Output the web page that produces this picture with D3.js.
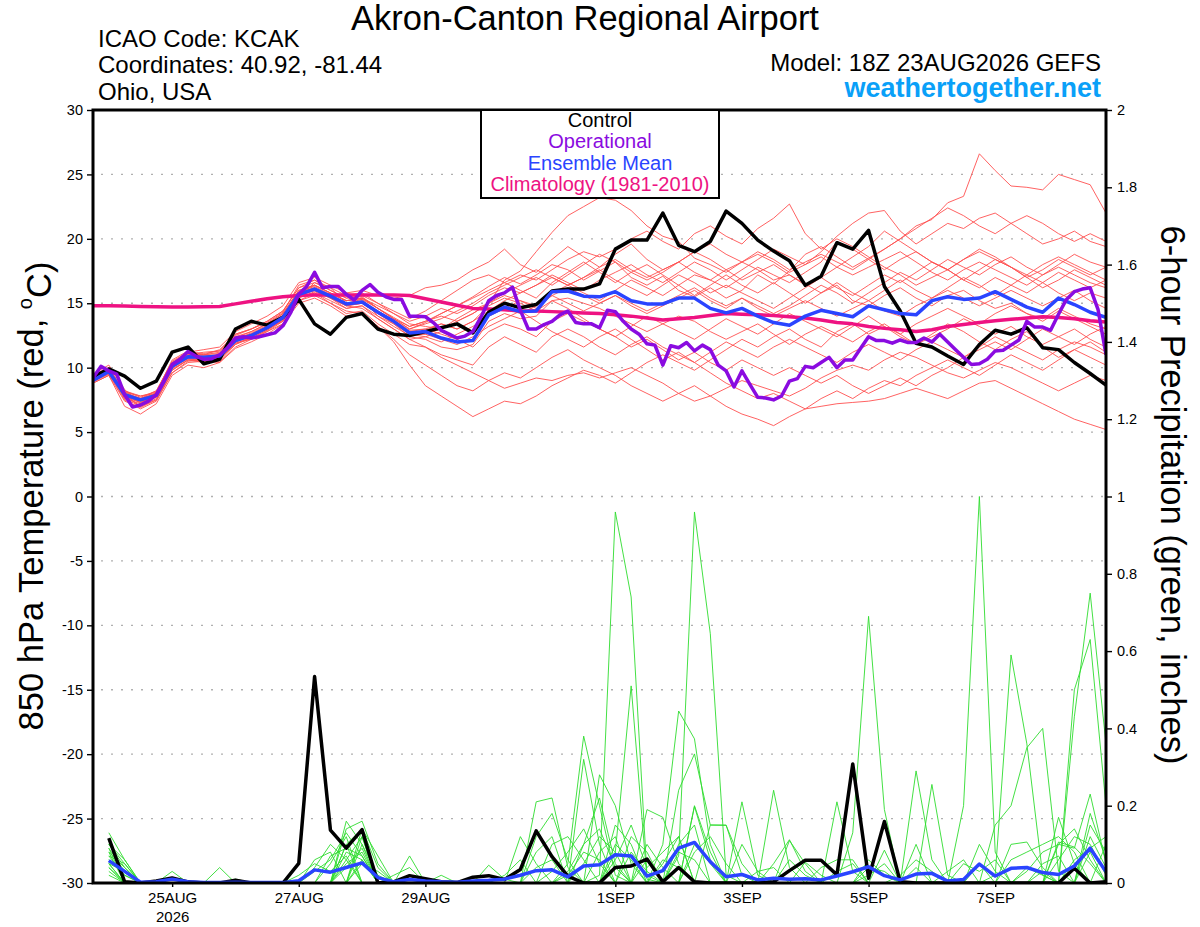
<!DOCTYPE html>
<html><head><meta charset="utf-8">
<script src="https://cdn.jsdelivr.net/npm/d3@7"></script>
<style>
body{margin:0;background:#fff}
svg{display:block;font-family:"Liberation Sans",Arial,Helvetica,sans-serif}
</style>
</head><body><svg id="chart" width="1200" height="927"></svg>
<script>
// ---------------- DATA ----------------
const runStart = Date.UTC(2026, 7, 23, 18);   // 18Z 23AUG2026
const runEnd   = Date.UTC(2026, 8, 8, 18);    // +384 h
const tempStepH = 6, operStepH = 3, precipStepH = 6;

const xTickDates  = ["2026-08-25","2026-08-27","2026-08-29","2026-09-01","2026-09-03","2026-09-05","2026-09-07"];
const xTickLabels = ["25AUG","27AUG","29AUG","1SEP","3SEP","5SEP","7SEP"];
const xTickYear   = ["2026","","","","","",""];
const tempTicks   = [-30,-25,-20,-15,-10,-5,0,5,10,15,20,25,30];
const precipTicks = [0,0.2,0.4,0.6,0.8,1,1.2,1.4,1.6,1.8,2];

// 850 hPa temperature (deg C), 6-hourly from 0 h
const controlTemp = [9.3,9.9,9.35,8.4,8.96,11.2,11.6,10.3,10.65,13.0,13.6,13.3,13.9,
 15.3,13.4,12.6,13.9,14.2,13.0,12.6,12.5,12.8,13.1,13.4,12.7,14.3,
 15.0,14.65,14.9,15.95,16.1,16.1,16.5,19.2,19.9,19.9,22.0,19.5,19.0,
 19.8,22.15,21.2,19.9,19.05,18.3,16.4,17.1,19.7,19.2,20.65,16.3,14.4,
 11.9,11.6,10.9,10.25,11.8,12.9,12.6,13.1,11.55,11.4,10.4,9.55,8.65];
const meanTemp = [9.0,9.7,7.9,7.5,7.85,10.1,10.85,10.8,10.9,12.1,12.5,13.1,13.9,
 15.7,16.1,15.55,14.95,15.1,14.3,13.6,12.7,12.8,12.3,12.0,12.1,14.1,
 14.7,14.35,14.4,15.9,15.95,15.55,15.5,15.9,15.2,14.95,14.95,15.4,15.4,
 14.6,14.25,14.6,14.0,13.5,13.3,14.0,14.45,14.2,13.95,14.8,14.5,14.2,
 14.1,15.2,15.5,15.3,15.4,15.9,15.3,14.7,14.3,15.4,14.9,14.3,13.9];
const climoTemp = [14.8,14.8,14.78,14.75,14.72,14.7,14.7,14.72,14.75,14.95,15.15,15.35,15.5,
 15.6,15.65,15.65,15.65,15.65,15.65,15.65,15.6,15.35,15.1,14.85,14.6,14.55,
 14.5,14.4,14.4,14.35,14.3,14.25,14.2,14.1,14.0,13.85,13.7,13.8,13.9,
 14.05,14.2,14.15,14.1,14.05,13.95,13.85,13.7,13.5,13.4,13.2,13.05,12.95,
 12.8,12.95,13.2,13.35,13.5,13.65,13.75,13.85,13.95,13.9,13.8,13.65,13.55];
// operational run, 3-hourly from 0 h
const operTemp = [9.2,10.1,9.75,9.5,7.9,6.95,7.1,7.4,7.9,9.0,10.25,10.65,11.25,
 10.9,10.65,10.7,11.0,11.55,12.3,12.4,12.3,12.4,12.55,12.7,13.25,14.3,
 15.7,16.3,17.4,16.2,16.3,16.3,15.7,15.25,16.0,16.45,15.85,15.5,15.3,
 15.3,14.0,14.0,13.95,13.5,12.9,12.6,12.3,12.45,12.8,13.9,15.2,15.6,
 15.8,16.25,14.45,13.0,13.0,13.35,13.6,14.1,14.4,13.5,13.4,13.4,13.1,
 14.45,14.35,13.6,13.0,12.6,11.85,11.75,10.2,11.7,11.55,11.95,11.3,11.75,
 11.4,10.2,9.75,8.5,9.75,8.7,7.7,7.65,7.5,7.8,8.95,9.15,10.1,
 10.0,10.4,10.8,10.0,10.6,10.6,11.5,12.4,12.1,12.1,11.9,12.15,11.95,
 11.95,12.3,12.0,12.6,12.0,11.4,10.8,10.25,10.3,10.65,11.3,11.35,11.75,
 12.15,13.6,13.15,13.15,12.9,14.15,15.3,15.9,16.1,16.2,14.5,11.0];

// ensemble members, 6-hourly from 0 h
const memberTemp01 = [9.5,10.2,8.3,7.2,8.1,10.6,11.3,11.0,11.4,12.6,13.0,13.5,14.3,16.4,16.8,16.0,15.4,15.5,14.6,13.8,13.0,13.5,14.2,14.8,15.5,16.3,17.0,16.5,17.2,18.0,17.6,16.8,17.5,18.2,17.0,16.4,17.1,16.0,15.5,16.2,15.4,16.0,17.2,16.5,17.5,18.8,19.4,18.6,17.8,18.5,19.2,20.0,21.0,21.5,22.8,23.3,26.6,25.3,24.1,24.0,23.8,25.0,24.6,24.2,22.0];
const memberTemp02 = [9.0,9.5,7.5,6.8,7.4,9.6,10.5,10.6,10.5,11.8,12.4,13.0,13.6,15.5,16.6,16.2,15.0,15.3,14.0,13.2,12.5,12.6,13.0,13.8,14.5,15.0,16.8,17.5,19.0,20.5,21.8,22.5,23.2,23.0,22.2,21.0,20.2,19.8,18.5,18.0,17.4,18.2,17.6,16.8,17.2,16.5,15.8,16.4,15.2,14.8,15.6,16.2,15.4,14.8,15.6,16.0,15.2,14.6,15.0,14.2,13.8,14.6,14.0,13.4,13.0];
const memberTemp03 = [8.8,9.4,7.0,6.4,7.2,9.4,10.2,10.0,10.4,11.5,12.0,12.6,13.4,15.0,15.4,14.8,14.0,14.2,13.2,12.2,11.0,10.2,9.4,8.6,8.2,9.0,9.6,9.2,10.0,10.8,11.4,10.6,10.0,9.4,8.6,8.0,7.4,8.0,8.6,7.8,7.0,6.4,6.0,5.5,6.2,6.8,7.0,7.2,7.3,7.4,7.6,8.0,8.4,8.0,7.6,8.2,8.8,9.0,8.4,7.8,7.2,6.6,6.0,5.6,5.2];
const memberTemp04 = [9.2,9.8,7.8,7.0,7.6,9.8,10.6,10.4,10.8,11.9,12.2,12.8,13.6,15.2,15.8,15.0,14.4,14.2,13.2,12.0,10.2,8.6,7.8,7.0,6.2,6.8,7.4,7.2,7.8,8.6,9.2,9.8,9.4,8.8,9.6,10.4,11.0,10.4,9.8,10.6,11.4,12.2,11.6,12.4,13.0,12.2,11.6,12.8,13.4,12.6,13.2,12.4,11.8,12.6,13.4,12.8,12.0,11.4,12.2,12.8,11.6,10.8,11.4,12.0,11.2];
const memberTemp05 = [9.0,9.6,7.6,7.2,7.9,10.0,10.8,10.9,10.7,12.0,12.6,13.2,14.0,15.8,16.2,15.6,14.8,14.6,13.8,13.0,12.2,11.6,10.8,10.2,9.6,9.0,8.4,8.8,9.2,9.0,9.4,9.6,9.2,9.6,10.0,9.4,8.8,8.0,7.4,7.8,8.4,9.0,8.6,8.2,7.8,8.4,9.2,9.8,10.2,9.8,10.6,11.2,10.8,10.2,9.6,9.2,9.8,10.4,10.0,9.4,8.8,8.2,8.8,9.4,9.0];
const memberTemp06 = [9.4,10.0,8.0,7.6,8.2,10.4,11.2,11.4,11.6,12.8,13.4,14.0,14.8,16.6,17.0,16.4,15.8,16.0,15.6,15.4,15.6,16.2,16.4,16.8,17.6,18.2,19.2,18.0,17.4,18.4,19.4,18.6,17.8,18.8,19.6,18.4,17.6,18.2,19.0,18.4,17.6,16.8,17.4,18.0,17.2,16.4,17.0,17.8,18.6,19.4,20.6,19.8,19.0,18.2,17.6,18.4,19.2,18.6,17.8,17.0,17.6,18.4,17.8,17.2,17.8];
const memberTemp07 = [9.2,9.8,8.2,7.8,8.0,10.2,10.9,10.7,11.0,12.2,12.7,13.3,14.1,15.9,16.3,15.7,15.2,15.3,14.6,13.9,13.2,13.6,14.2,14.8,15.4,16.0,16.6,17.2,16.8,17.6,18.4,19.0,18.6,19.2,20.0,20.6,19.8,19.2,20.4,21.0,20.2,19.6,20.8,21.6,22.7,20.4,19.2,20.0,19.4,18.6,17.8,17.2,16.4,17.0,17.6,16.8,16.2,17.0,16.4,15.8,16.6,17.4,16.8,16.2,16.8];
const memberTemp08 = [9.0,9.7,7.7,7.3,7.7,10.0,10.7,10.6,10.8,12.0,12.4,13.0,13.8,15.6,16.0,15.4,14.8,15.0,14.2,13.5,12.6,12.9,13.4,13.0,13.6,14.4,15.2,15.8,16.4,17.2,16.6,16.0,16.8,17.4,18.0,17.2,16.6,17.4,18.2,17.6,16.8,17.6,18.4,19.2,18.6,18.0,19.0,20.2,21.2,22.0,22.2,20.6,19.6,20.4,21.2,20.8,21.6,22.0,21.2,20.4,19.6,20.0,20.6,19.8,19.4];
const memberTemp09 = [8.9,9.5,7.8,7.4,7.7,9.9,10.6,10.5,10.7,11.8,12.3,12.9,13.7,15.4,15.9,15.4,14.6,14.8,14.0,13.4,12.4,12.2,11.6,11.4,11.8,13.6,14.2,13.8,14.0,15.2,15.4,15.0,14.6,14.0,13.4,12.8,13.4,14.0,13.6,12.8,12.2,12.8,13.4,12.6,11.8,12.6,13.2,12.6,12.0,12.8,13.4,12.6,11.8,12.4,13.0,13.8,13.2,12.6,13.2,12.4,11.8,12.4,13.0,12.2,11.6];
const memberTemp10 = [9.1,9.8,8.0,7.6,8.0,10.3,11.0,11.0,11.2,12.4,12.8,13.4,14.2,16.0,16.4,15.8,15.2,15.4,14.8,14.2,13.6,14.0,14.6,14.2,14.8,15.6,16.2,15.8,16.4,17.0,16.4,17.0,17.6,16.8,16.2,15.6,16.4,17.2,16.6,15.8,16.4,15.8,15.2,14.6,15.4,16.2,17.0,16.2,15.6,16.4,17.2,16.6,17.4,18.2,17.6,16.8,17.6,18.4,17.8,17.0,16.2,16.8,17.6,17.0,16.4];
const memberTemp11 = [9.3,9.9,7.9,7.0,7.8,10.1,10.9,10.8,11.0,12.3,12.6,13.1,13.9,15.6,16.0,15.6,15.0,15.2,14.4,13.6,12.8,12.6,12.2,11.8,12.4,13.2,13.8,14.4,13.6,12.8,12.2,11.6,12.4,13.0,12.2,11.4,10.6,11.2,10.4,9.6,8.8,8.2,7.6,8.0,7.4,6.8,7.6,8.2,7.6,8.4,9.0,8.6,9.4,10.0,10.6,10.0,9.4,10.2,11.0,10.4,9.8,10.6,11.4,10.8,10.2];
const memberTemp12 = [9.0,9.6,7.9,7.5,7.9,10.1,10.8,10.9,11.0,12.1,12.6,13.2,14.0,15.8,16.2,15.6,14.9,15.0,14.2,13.4,12.6,12.4,12.0,12.6,13.2,14.0,14.6,15.2,14.6,15.6,16.2,15.6,15.0,15.6,14.8,14.2,14.8,15.4,16.0,15.2,14.6,15.4,14.8,14.2,14.8,15.6,16.4,15.8,15.0,15.8,16.6,17.4,16.8,17.6,18.4,17.8,17.2,18.0,18.6,17.8,17.2,18.0,18.8,18.2,17.8];
const memberTemp13 = [9.2,9.7,7.6,7.0,7.5,9.8,10.6,10.7,10.6,11.9,12.3,12.9,13.7,15.5,15.8,15.2,14.6,14.8,13.8,13.0,12.2,12.4,12.8,12.2,11.6,12.8,13.4,13.0,12.4,13.6,14.2,13.6,13.0,12.4,13.2,14.0,13.4,12.8,12.2,13.0,13.8,13.2,12.6,13.4,14.2,13.6,13.0,12.4,13.2,14.0,13.2,12.6,13.4,14.0,14.6,14.0,13.4,14.2,14.8,14.2,13.6,14.4,13.8,13.2,12.6];
const memberTemp14 = [9.1,9.8,8.1,7.8,8.1,10.4,11.0,11.2,11.3,12.5,13.0,13.6,14.4,16.2,16.6,16.0,15.4,15.6,15.0,14.4,13.8,14.4,15.2,16.0,16.8,17.2,16.6,16.0,15.4,16.6,17.4,18.2,17.4,16.6,17.4,18.0,17.2,16.4,15.6,16.4,17.2,16.4,15.8,16.6,15.8,15.0,15.8,16.6,15.8,15.2,16.0,16.8,16.0,15.4,16.2,17.0,16.4,15.6,16.4,17.2,16.6,15.8,15.2,15.8,15.4];
const memberTemp15 = [8.8,9.4,7.4,6.9,7.5,9.6,10.4,10.5,10.4,11.6,12.2,12.8,13.4,15.2,15.6,15.0,14.2,14.4,13.4,12.6,11.8,11.6,11.0,10.6,10.2,11.6,12.4,11.8,11.2,12.4,13.0,12.4,11.6,11.0,11.8,12.4,11.6,11.0,10.4,11.2,12.0,11.4,10.8,11.6,12.2,11.6,11.0,10.4,11.2,11.8,11.2,10.6,11.4,12.0,11.4,10.8,11.6,12.4,11.8,11.2,10.6,11.4,12.0,11.6,11.0];
const memberTemp16 = [9.4,10.0,8.2,7.7,8.2,10.5,11.2,11.1,11.3,12.6,13.0,13.6,14.4,16.2,16.8,16.2,15.6,15.8,15.0,14.2,13.4,13.2,13.0,13.6,14.2,15.0,15.6,15.2,14.8,15.8,16.4,15.8,15.2,16.0,16.8,16.2,15.6,16.4,17.2,16.8,16.2,17.0,17.8,17.2,16.6,17.4,18.2,19.8,19.2,18.4,17.6,18.4,19.0,18.2,17.6,18.4,19.0,18.4,17.8,17.2,18.0,18.6,18.0,17.4,16.8];
const memberTemp17 = [9.0,9.6,7.8,7.3,7.8,10.0,10.8,10.7,10.9,12.1,12.5,13.0,13.8,15.6,16.0,15.4,14.8,15.0,14.2,13.6,12.8,13.0,13.4,13.0,13.6,14.8,15.4,15.0,14.4,15.2,14.6,13.8,13.0,12.4,11.6,12.2,11.4,10.6,11.2,10.4,9.8,10.6,10.0,9.4,10.0,9.4,8.8,9.4,8.6,8.0,8.6,9.2,8.6,9.4,10.0,10.8,11.4,12.0,11.4,12.2,13.0,12.4,11.8,12.6,13.2];
const memberTemp18 = [9.3,9.9,8.1,7.6,8.0,10.3,11.1,11.0,11.1,12.3,12.8,13.4,14.2,16.0,16.4,15.8,15.2,15.4,14.6,13.8,13.0,13.4,13.8,14.4,15.0,15.8,16.4,17.0,17.6,17.0,16.4,17.0,17.8,18.4,17.6,17.0,17.6,18.2,17.4,16.8,17.6,18.2,18.8,18.2,17.4,18.0,18.6,17.8,17.2,17.8,18.4,19.0,18.2,17.4,16.8,17.6,18.2,17.6,17.0,16.4,17.2,17.8,17.2,16.6,16.2];
const memberTemp19 = [9.0,9.7,7.8,7.4,7.8,10.0,10.7,10.7,10.8,12.0,12.4,13.0,13.8,15.7,16.1,15.5,14.9,15.1,14.4,13.7,12.9,13.0,12.6,12.2,12.8,14.0,14.6,14.2,14.8,15.6,15.0,14.4,15.0,15.6,15.0,14.4,15.0,15.6,16.2,15.4,14.8,15.4,14.6,14.0,14.6,15.2,14.6,14.0,14.6,15.2,14.4,14.0,14.8,15.4,16.0,15.4,14.8,15.4,16.0,15.4,14.8,15.4,16.0,15.2,14.6];
const memberTemp20 = [9.2,9.9,8.0,7.5,8.0,10.2,11.0,10.9,11.0,12.2,12.6,13.2,14.0,15.8,16.4,15.8,15.2,15.4,14.6,13.8,13.2,13.6,14.0,13.6,14.2,15.0,15.8,16.4,17.0,16.4,17.2,18.0,18.8,18.2,17.4,16.8,17.4,18.2,19.0,19.6,18.8,18.2,19.0,18.4,17.6,18.2,18.8,18.2,17.6,18.4,19.2,20.0,20.8,21.6,22.4,21.8,21.0,20.4,21.2,21.8,21.2,20.4,19.8,20.4,19.8];

// 6-hour precipitation (inches), valid at 6 h, 12 h, ... 384 h
const controlPrecip = [0.116,0.003,0,0.005,0.013,0.003,0,0, 0.007,0,0,0,0.051,0.534,0.137,0.09,
 0.138,0,0.003,0.019,0.011,0.003,0.001,0.015, 0.019,0.009,0.035,0.135,0.068,0.018,0,0,
 0.04,0.044,0.062,0.003,0.04,0.003,0,0, 0,0,0.003,0.032,0.059,0.059,0.021,0.308,
 0.012,0.159,0.003,0,0,0,0,0, 0,0,0,0,0,0.038,0,0.003];
const meanPrecip = [0.058,0.03,0.002,0.003,0.01,0.003,0.001,0.001, 0.002,0.001,0.001,0.001,0.006,0.034,0.028,0.04,
 0.052,0.014,0.003,0.009,0.005,0.003,0.002,0.005, 0.007,0.01,0.02,0.032,0.034,0.016,0.044,0.047,
 0.073,0.07,0.018,0.032,0.09,0.105,0.055,0.016, 0.022,0.008,0.012,0.01,0.011,0.008,0.018,0.029,
 0.042,0.019,0.008,0.023,0.025,0.005,0.009,0.049, 0.018,0.038,0.04,0.027,0.022,0.044,0.09,0.029];
const memberPrecip01 = [0.13,0.06,0,0,0,0,0,0, 0,0,0,0,0,0,0,0.14, 0.16,0.05,0,0,0,0,0,0, 0,0,0,0,0,0,0,0.02, 0.96,0.74,0.02,0,0,0,0,0, 0,0,0,0.11,0.05,0,0,0, 0,0,0,0.1,0,0,0,0, 0,0,0,0,0.1,0.09,0.23,0.05];
const memberPrecip02 = [0.1,0.04,0,0,0,0,0,0, 0,0,0,0,0,0.06,0.08,0, 0,0,0,0,0,0,0,0, 0,0,0,0.12,0.18,0.06,0,0, 0,0,0,0,0.07,0.96,0.645,0.02, 0,0,0,0,0,0,0,0, 0,0,0,0,0,0,0,0.05, 0,0,0,0.03,0,0,0,0];
const memberPrecip03 = [0.08,0,0,0,0,0,0,0, 0,0,0,0,0,0,0,0, 0.12,0,0,0,0,0,0,0, 0,0,0,0,0,0,0.32,0.1, 0,0,0,0,0,0,0,0, 0,0,0.24,0.04,0,0,0,0, 0,0,0,0,0,0,0.2,1.0, 0.08,0,0,0,0,0,0,0];
const memberPrecip04 = [0.07,0.05,0,0,0,0,0,0, 0,0,0,0,0,0,0,0.16, 0.1,0,0,0,0,0,0,0, 0,0,0,0,0,0,0,0, 0.08,0.51,0.01,0,0,0,0,0, 0,0,0,0,0,0,0,0, 0.06,0.02,0,0,0,0,0,0, 0,0,0,0,0,0.5,0.63,0.2];
const memberPrecip05 = [0.05,0,0,0,0,0,0,0, 0,0,0,0,0,0,0,0.06, 0.12,0,0,0,0,0,0,0, 0,0,0,0,0,0.05,0.38,0.2, 0.02,0,0,0,0,0,0,0, 0,0,0,0,0,0,0,0, 0,0,0,0.29,0.06,0,0,0, 0.15,0.2,0.35,0.4,0.03,0,0,0];
const memberPrecip06 = [0.04,0,0,0,0,0,0,0, 0,0,0,0,0,0,0,0, 0,0,0,0.07,0,0,0,0, 0,0,0,0.21,0.22,0.04,0,0, 0,0,0,0.1,0.445,0.373,0.1,0, 0,0,0,0,0,0,0,0.13, 0.69,0.19,0,0,0,0,0,0, 0,0,0,0,0,0,0,0];
const memberPrecip07 = [0.09,0,0,0,0.03,0,0,0, 0,0,0,0,0,0,0,0.1, 0,0,0,0,0,0,0,0, 0,0,0,0,0,0,0,0, 0,0,0,0,0.24,0.334,0.15,0.15, 0.02,0,0,0,0,0,0,0, 0,0,0,0,0.255,0.02,0,0, 0,0,0,0,0,0.43,0.75,0.36];
const memberPrecip08 = [0.06,0.03,0,0,0,0,0,0, 0,0,0,0,0,0,0,0, 0.14,0.07,0,0,0,0,0,0, 0,0,0,0,0,0,0,0.28, 0.2,0.05,0,0,0,0,0,0, 0,0,0,0,0,0,0.21,0.03, 0,0,0,0,0,0,0,0, 0.02,0.59,0.36,0.02,0,0,0,0];
const memberPrecip09 = [0.11,0,0,0,0,0,0,0, 0,0,0,0,0,0,0.05,0.12, 0,0,0,0,0,0,0,0, 0,0,0,0,0,0,0.1,0.22, 0.05,0,0.19,0.17,0.05,0,0,0, 0.21,0.02,0,0,0,0,0,0, 0,0,0,0,0,0,0,0, 0,0,0,0,0.17,0.05,0,0];
const memberPrecip10 = [0.03,0,0,0,0,0,0,0.04, 0,0,0,0,0,0,0,0.08, 0.06,0,0,0,0,0,0,0, 0,0,0.12,0.05,0,0,0,0, 0.15,0.1,0,0,0,0.2,0.08,0, 0,0,0,0,0,0,0,0, 0,0.085,0,0,0,0,0,0.1, 0.03,0,0,0,0,0,0.12,0.04];
const memberPrecip11 = [0.1,0.06,0,0,0,0,0,0, 0,0,0,0,0,0.04,0.1,0.06, 0,0,0,0,0,0,0,0, 0,0,0,0,0.1,0.12,0.06,0, 0,0.12,0.08,0,0.1,0.15,0,0, 0,0,0,0,0.054,0.02,0,0, 0,0,0,0,0,0,0,0, 0,0.1,0.106,0.04,0,0,0.08,0];
const memberPrecip12 = [0.02,0,0,0,0,0,0,0, 0,0,0,0,0,0,0.07,0.09, 0.07,0,0,0,0,0,0,0, 0,0,0,0,0,0,0,0.08, 0.12,0,0,0.05,0.12,0,0.15,0.149, 0.05,0,0,0,0,0,0,0, 0,0,0,0,0,0.03,0.06,0, 0,0,0,0,0.106,0.093,0.05,0];
const memberPrecip13 = [0.08,0.04,0,0,0,0,0,0, 0,0,0,0,0,0,0,0, 0.05,0.03,0,0,0,0,0,0, 0,0,0,0,0.03,0.08,0.14,0.05, 0,0,0.06,0,0,0.198,0.06,0, 0,0,0.05,0.112,0.03,0,0,0, 0,0,0,0,0,0,0,0, 0,0,0,0,0.06,0.12,0.1,0.02];
const memberPrecip14 = [0.05,0,0,0,0,0,0,0, 0,0,0,0,0,0,0,0.05, 0.08,0,0.02,0.04,0,0,0,0, 0,0,0,0,0,0,0,0, 0.06,0.15,0.04,0.08,0.12,0,0,0, 0,0,0,0,0,0.04,0.06,0.06, 0,0,0,0,0,0,0,0, 0,0.06,0.08,0.1,0.12,0.08,0,0];
const memberPrecip15 = [0.09,0.03,0,0,0,0,0,0, 0,0,0,0,0,0,0,0.04, 0.09,0,0,0,0,0,0,0, 0.046,0.01,0,0,0,0.03,0.1,0.14, 0.04,0,0,0,0,0.08,0.12,0.05, 0,0,0,0,0,0,0,0, 0,0,0.02,0.06,0.03,0,0,0, 0,0,0,0,0,0,0.18,0.06];
const memberPrecip16 = [0.07,0.02,0,0,0,0,0,0, 0,0,0,0,0.02,0.05,0.03,0.07, 0,0,0,0,0,0.02,0,0, 0,0,0,0.08,0.12,0,0,0, 0,0,0,0.06,0.04,0,0,0, 0.1,0.03,0,0,0,0,0,0, 0.04,0.03,0,0,0,0,0,0, 0,0,0.03,0.08,0.1,0.14,0.06,0];
const memberPrecip17 = [0.06,0.02,0,0,0,0,0,0, 0,0,0,0,0,0,0,0, 0.1,0.02,0,0,0,0,0,0, 0,0,0,0,0,0,0.05,0.12, 0.08,0,0.1,0.04,0,0,0,0, 0,0,0,0.06,0.02,0,0,0, 0,0,0,0,0,0,0.05,0.03, 0.06,0,0,0,0,0,0,0.1];
const memberPrecip18 = [0.04,0,0,0,0,0,0,0, 0.01,0,0,0,0,0,0,0.1, 0.14,0.04,0,0,0,0,0,0, 0,0.02,0.06,0,0,0,0,0, 0,0.08,0.03,0,0,0.1,0.05,0, 0,0,0,0,0,0,0.03,0.05, 0,0,0,0.04,0,0,0,0, 0,0,0,0,0,0.06,0.09,0.12];
const memberPrecip19 = [0.1,0.05,0,0,0,0,0,0, 0,0,0,0,0,0.03,0.06,0.13, 0.07,0,0,0,0,0,0,0, 0,0,0,0,0,0.02,0.08,0.06, 0,0,0,0,0.08,0.06,0,0, 0,0,0,0,0,0,0,0, 0.02,0.05,0,0,0,0,0,0, 0,0,0,0.05,0.07,0,0,0];
const memberPrecip20 = [0.05,0.03,0,0,0,0,0,0, 0,0,0,0,0,0,0,0, 0.06,0,0,0,0,0,0,0, 0,0,0,0.04,0.06,0,0,0, 0.1,0.06,0,0,0,0,0,0, 0,0.03,0.04,0,0,0,0,0, 0,0,0,0,0,0,0,0, 0,0,0.04,0.02,0,0,0.15,0.08];

const memberTemps = [memberTemp01,memberTemp02,memberTemp03,memberTemp04,memberTemp05,memberTemp06,memberTemp07,memberTemp08,memberTemp09,memberTemp10,
  memberTemp11,memberTemp12,memberTemp13,memberTemp14,memberTemp15,memberTemp16,memberTemp17,memberTemp18,memberTemp19,memberTemp20];
const memberPrecips = [memberPrecip01,memberPrecip02,memberPrecip03,memberPrecip04,memberPrecip05,memberPrecip06,memberPrecip07,memberPrecip08,memberPrecip09,memberPrecip10,
  memberPrecip11,memberPrecip12,memberPrecip13,memberPrecip14,memberPrecip15,memberPrecip16,memberPrecip17,memberPrecip18,memberPrecip19,memberPrecip20];

const legendItems = [
  {label:"Control", color:"#000000"},
  {label:"Operational", color:"#8a0be0"},
  {label:"Ensemble Mean", color:"#2a44ff"},
  {label:"Climatology (1981-2010)", color:"#ee1282"}
];

// ---------------- CHART ----------------
const W = 1200, H = 927;
const M = {left:93, right:1106, top:110, bottom:883};
const svg = d3.select("#chart");
svg.append("rect").attr("width",W).attr("height",H).attr("fill","#fff");

const hourToDate = h => new Date(runStart + h*3600e3);
const x = d3.scaleUtc().domain([new Date(runStart), new Date(runEnd)]).range([M.left, M.right]);
const yT = d3.scaleLinear().domain([-30,30]).range([M.bottom, M.top]);
const yP = d3.scaleLinear().domain([0,2]).range([M.bottom, M.top]);

svg.append("defs").append("clipPath").attr("id","plotclip")
  .append("rect").attr("x",M.left).attr("y",M.top).attr("width",M.right-M.left).attr("height",M.bottom-M.top);

// gridlines
svg.append("g").selectAll("line").data(tempTicks.filter(v=>v>-30 && v<30)).join("line")
  .attr("x1",M.left+8).attr("x2",M.right).attr("y1",d=>yT(d)).attr("y2",d=>yT(d))
  .attr("stroke","#b0b0b0").attr("stroke-width",1.4).attr("stroke-dasharray","2,8");

const plot = svg.append("g").attr("clip-path","url(#plotclip)");

const tLine = (step) => d3.line().x((d,i)=>x(hourToDate(i*step))).y(d=>yT(d));
const pLine = d3.line().defined(d=>d!=null).x((d,i)=>x(hourToDate((i+1)*precipStepH))).y(d=>yP(d));

// ensemble members
memberTemps.forEach(arr=>{
  plot.append("path").attr("d",tLine(tempStepH)(arr)).attr("fill","none")
    .attr("stroke","#ff5050").attr("stroke-width",0.9);
});
memberPrecips.forEach(arr=>{
  plot.append("path").attr("d",pLine(arr)).attr("fill","none")
    .attr("stroke","#2fdc2f").attr("stroke-width",0.9);
});

// climatology
plot.append("path").attr("d",tLine(tempStepH)(climoTemp)).attr("fill","none")
  .attr("stroke",legendItems[3].color).attr("stroke-width",3.5).attr("stroke-linejoin","round");
// control
plot.append("path").attr("d",tLine(tempStepH)(controlTemp)).attr("fill","none")
  .attr("stroke",legendItems[0].color).attr("stroke-width",3.5).attr("stroke-linejoin","round");
plot.append("path").attr("d",pLine(controlPrecip)).attr("fill","none")
  .attr("stroke",legendItems[0].color).attr("stroke-width",3.5).attr("stroke-linejoin","round");
// mean
plot.append("path").attr("d",tLine(tempStepH)(meanTemp)).attr("fill","none")
  .attr("stroke",legendItems[2].color).attr("stroke-width",3.5).attr("stroke-linejoin","round");
plot.append("path").attr("d",pLine(meanPrecip)).attr("fill","none")
  .attr("stroke",legendItems[2].color).attr("stroke-width",3.5).attr("stroke-linejoin","round");
// operational
plot.append("path").attr("d",tLine(operStepH)(operTemp)).attr("fill","none")
  .attr("stroke",legendItems[1].color).attr("stroke-width",3.5).attr("stroke-linejoin","round");

// axes
const leftAxis = d3.axisLeft(yT).tickValues(tempTicks).tickSize(6).tickPadding(4).tickFormat(d=>d);
const gL = svg.append("g").attr("transform",`translate(${M.left},0)`).call(leftAxis);
const rightAxis = d3.axisRight(yP).tickValues(precipTicks).tickSize(6).tickPadding(5).tickFormat(d3.format("~g"));
const gR = svg.append("g").attr("transform",`translate(${M.right},0)`).call(rightAxis);
const bottomAxis = d3.axisBottom(x).tickValues(xTickDates.map(s=>new Date(s+"T00:00:00Z"))).tickSize(4).tickPadding(3)
  .tickFormat((d,i)=>xTickLabels[i]);
const gB = svg.append("g").attr("transform",`translate(0,${M.bottom})`).call(bottomAxis);
[gL,gR,gB].forEach(g=>{
  g.select(".domain").remove();
  g.selectAll(".tick line").attr("stroke","#000").attr("stroke-width",1.4);
  g.selectAll("text").attr("fill","#000").style("font-family","'Liberation Sans',Arial,sans-serif");
});
gL.selectAll("text").style("font-size","14.5px");
gR.selectAll("text").style("font-size","14.5px");
gB.selectAll("text").style("font-size","15px").attr("dy","0.85em");
gB.selectAll(".tick").each(function(d,i){
  if (xTickYear[i]) d3.select(this).append("text").attr("y",39).attr("text-anchor","middle")
    .attr("fill","#000").style("font-size","15px").style("font-family","'Liberation Sans',Arial,sans-serif").text(xTickYear[i]);
});

// frame
svg.append("rect").attr("x",M.left).attr("y",M.top).attr("width",M.right-M.left).attr("height",M.bottom-M.top)
  .attr("fill","none").attr("stroke","#000").attr("stroke-width",3);

// legend
const lg = svg.append("g");
lg.append("rect").attr("x",481).attr("y",110).attr("width",238).attr("height",88)
  .attr("fill","#fff").attr("stroke","#000").attr("stroke-width",2);
lg.selectAll("text").data(legendItems).join("text")
  .attr("x",600).attr("y",(d,i)=>127+i*21.3).attr("text-anchor","middle")
  .attr("fill",d=>d.color).style("font-size","20px").text(d=>d.label);

// titles
svg.append("text").attr("x",585).attr("y",30).attr("text-anchor","middle").style("font-size","34.5px").text("Akron-Canton Regional Airport");
const info = ["ICAO Code: KCAK","Coordinates: 40.92, -81.44","Ohio, USA"];
svg.append("g").selectAll("text").data(info).join("text")
  .attr("x",98).attr("y",(d,i)=>47+i*26.3).style("font-size","24px").text(d=>d);
svg.append("text").attr("x",1101).attr("y",71).attr("text-anchor","end").style("font-size","24px").text("Model: 18Z 23AUG2026 GEFS");
svg.append("text").attr("x",1101).attr("y",97).attr("text-anchor","end").style("font-size","27px").style("font-weight","bold")
  .attr("fill","#0aa0f8").text("weathertogether.net");

// axis titles
const lt = svg.append("text").attr("transform","translate(43,496) rotate(-90)").attr("text-anchor","middle").style("font-size","34.5px");
lt.append("tspan").text("850 hPa Temperature (red, ");
lt.append("tspan").attr("dy","-0.55em").style("font-size","20px").text("o");
lt.append("tspan").attr("dy","0.55em").text("C)");
svg.append("text").attr("transform","translate(1161,495) rotate(90)").attr("text-anchor","middle").style("font-size","34.5px")
  .text("6-hour Precipitation (green, inches)");
</script>
</body></html>
